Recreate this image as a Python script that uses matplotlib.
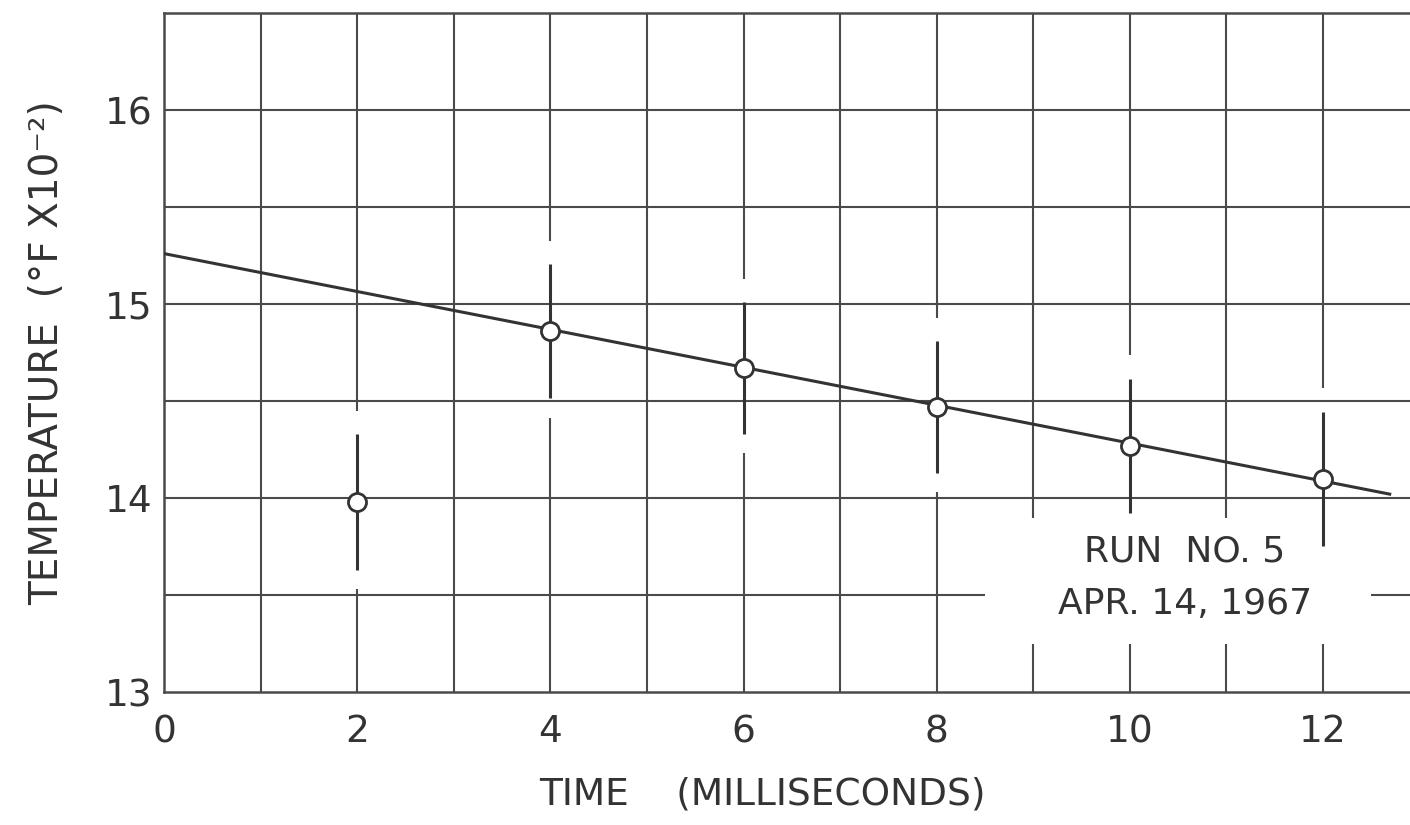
import matplotlib.pyplot as plt
from matplotlib.patches import Rectangle

# ---- data ----
time_ms = [2, 4, 6, 8, 10, 12]
temp = [13.98, 14.86, 14.67, 14.47, 14.27, 14.10]
temp_err = [0.35, 0.345, 0.34, 0.34, 0.345, 0.345]

fit_time = [0, 12.69]
fit_temp = [15.26, 14.02]

x_ticks = [0, 2, 4, 6, 8, 10, 12]
y_ticks = [13, 14, 15, 16]
x_grid = [1, 2, 3, 4, 5, 6, 7, 8, 9, 10, 11, 12]
y_grid = [13.5, 14, 14.5, 15, 15.5, 16]

note = "RUN  NO. 5\nAPR. 14, 1967"

INK = "#333333"
GRID = "#4a4a4a"
XMAX, YMIN, YMAX = 12.9, 13, 16.5
GAP_LO, GAP_HI = 0.1, 0.12

plt.rcParams["font.family"] = ["DejaVu Sans"]

fig = plt.figure(figsize=(14.1, 8.25), dpi=100)
ax = fig.add_axes([0.1163, 0.1612, 1 - 0.1163, 0.9842 - 0.1612])
ax.set_xlim(0, XMAX)
ax.set_ylim(YMIN, YMAX)

# grid lines, vertical ones broken just beyond the error bar ends
err_at = {t: (y, e) for t, y, e in zip(time_ms, temp, temp_err)}
for gx in x_grid:
    if gx in err_at:
        y, e = err_at[gx]
        ax.vlines(gx, YMIN, y - e - GAP_LO, color=GRID, lw=1.5, zorder=1)
        ax.vlines(gx, y + e + GAP_HI, YMAX, color=GRID, lw=1.5, zorder=1)
    else:
        ax.vlines(gx, YMIN, YMAX, color=GRID, lw=1.5, zorder=1)
for gy in y_grid:
    ax.hlines(gy, 0, XMAX, color=GRID, lw=1.5, zorder=1)

# blank patch behind the run note
ax.add_patch(Rectangle((8.5, 13.25), 4.0, 0.645, facecolor="white",
                       edgecolor="none", zorder=1.5))

ax.plot(fit_time, fit_temp, color=INK, lw=2.2, zorder=3)
ax.errorbar(time_ms, temp, yerr=temp_err, fmt="none", ecolor=INK,
            elinewidth=2.2, capsize=0, zorder=3)
ax.plot(time_ms, temp, "o", ms=13, mfc="white", mec=INK, mew=2.0, zorder=4)

ax.text(10.57, 13.59, note, ha="center", va="center", fontsize=26,
        color=INK, linespacing=1.7, zorder=5)

ax.set_xticks(x_ticks)
ax.set_yticks(y_ticks)
ax.set_xticklabels([str(v) for v in x_ticks])
ax.set_yticklabels([str(v) for v in y_ticks])
ax.tick_params(length=0, labelsize=27, labelcolor=INK)
ax.tick_params(axis="x", pad=16)
ax.tick_params(axis="y", pad=8)

for side in ("left", "bottom", "top"):
    ax.spines[side].set_color(GRID)
    ax.spines[side].set_linewidth(1.8)
ax.spines["right"].set_visible(False)

ax.set_xlabel("TIME    (MILLISECONDS)", fontsize=27, color=INK)
ax.xaxis.set_label_coords(0.48, -0.125)
ax.set_ylabel("TEMPERATURE  (°F X10⁻²)", fontsize=28, color=INK, labelpad=28)

fig.savefig("out.png", dpi=100)
